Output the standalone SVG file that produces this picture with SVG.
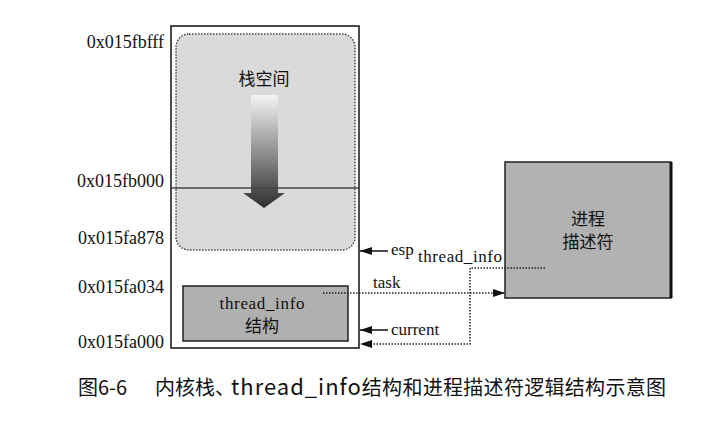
<svg xmlns="http://www.w3.org/2000/svg" width="716" height="423" viewBox="0 0 716 423">
<style>
.lbl{font-family:"Liberation Serif","Noto Sans CJK SC",serif;font-size:17px;fill:#111}
.addr{font-family:"Liberation Serif",serif;font-size:18px;fill:#111}
.cap{font-family:"Noto Sans CJK SC","Noto Sans",sans-serif;font-size:20px;fill:#111}
.solid{stroke:#111;stroke-width:1.5;fill:none}
.dot{stroke:#222;stroke-width:1.5;fill:none;stroke-dasharray:1.5 1.5}
</style>
<defs>
<linearGradient id="g" x1="0" y1="0" x2="0" y2="1">
<stop offset="0" stop-color="#f4f4f4"/>
<stop offset="1" stop-color="#2e2e2e"/>
</linearGradient>
<marker id="ah" markerWidth="12" markerHeight="8" refX="12" refY="4" orient="auto" markerUnits="userSpaceOnUse">
<path d="M0,0 L12,4 L0,8 Z" fill="#111"/>
</marker>
</defs>
<rect width="716" height="423" fill="#fff"/>
<g id="addresses">
<text class="addr" x="164" y="48" text-anchor="end">0x015fbfff</text>
<text class="addr" x="164" y="187" text-anchor="end">0x015fb000</text>
<text class="addr" x="164" y="244" text-anchor="end">0x015fa878</text>
<text class="addr" x="164" y="293" text-anchor="end">0x015fa034</text>
<text class="addr" x="164" y="348" text-anchor="end">0x015fa000</text>
</g>
<g id="kernel-stack">
<rect x="171" y="26" width="188" height="322" fill="#fff" stroke="#111" stroke-width="1.5"/>
<rect x="176" y="34" width="179" height="216" rx="13" ry="13" fill="#dadada" stroke="#444" stroke-width="1.5" stroke-dasharray="1.5 1.5"/>
<text class="lbl" x="264" y="85" text-anchor="middle">栈空间</text>
<path d="M251,95 H278 V193 H285 L264,208 L243,193 H251 Z" fill="url(#g)"/>
<line x1="170" y1="188" x2="359" y2="188" stroke="#444" stroke-width="1.5"/>
</g>
<g id="thread-info">
<rect x="183" y="286" width="165" height="55" fill="#b0b0b0" stroke="#222" stroke-width="1.5"/>
<text class="lbl" x="262" y="309" text-anchor="middle" textLength="85">thread_info</text>
<text class="lbl" x="262" y="332" text-anchor="middle">结构</text>
</g>
<g id="process-descriptor">
<rect x="505" y="162" width="166" height="136" fill="#b2b2b2" stroke="#222" stroke-width="1.5"/>
<line x1="671" y1="162" x2="671" y2="298" stroke="#111" stroke-width="3"/>
<text class="lbl" x="588" y="225" text-anchor="middle">进程</text>
<text class="lbl" x="588" y="248" text-anchor="middle">描述符</text>
</g>
<g id="connectors">
<line class="solid" x1="388" y1="251" x2="360" y2="251" marker-end="url(#ah)"/>
<text class="lbl" x="391" y="255">esp</text>
<text class="lbl" x="418" y="262" textLength="84">thread_info</text>
<line class="solid" x1="388" y1="330" x2="360" y2="330" marker-end="url(#ah)"/>
<text class="lbl" x="391" y="335">current</text>
<line class="dot" x1="323" y1="293" x2="505" y2="293" marker-end="url(#ah)"/>
<text class="lbl" x="373" y="288">task</text>
<path class="dot" d="M545,268 H470 V344 H372"/>
<path d="M360,344 L372,340 L372,348 Z" fill="#111"/>
</g>
<g id="caption">
<text class="cap" y="395"><tspan x="78">图6-6</tspan><tspan x="155">内核栈、</tspan><tspan x="231" font-size="22" letter-spacing="1">thread_info</tspan><tspan letter-spacing="0.3">结构和进程描述符逻辑结构示意图</tspan></text>
</g>
</svg>
